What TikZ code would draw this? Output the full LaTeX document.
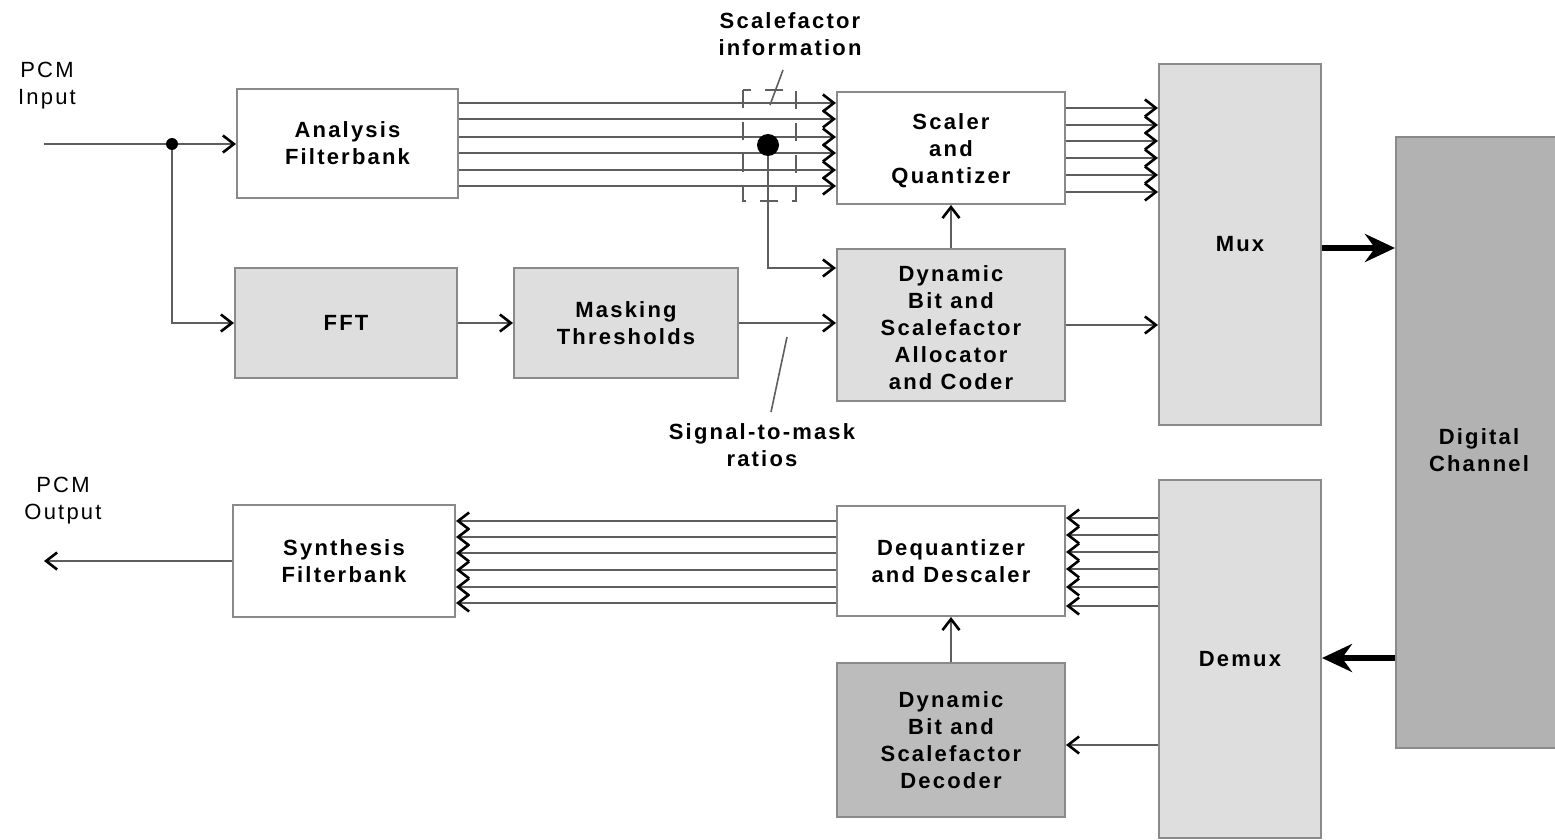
\documentclass[tikz,border=0pt]{standalone}
\usepackage{fontspec}
\setmainfont{Liberation Sans}
\newfontfamily\lblfamily{Liberation Sans}[LetterSpace=10]
\usetikzlibrary{arrows.meta}
\definecolor{bordergray}{HTML}{8A8A8A}
\definecolor{linegray}{HTML}{5E5E5E}
\definecolor{lightfill}{HTML}{DEDEDE}
\definecolor{darkfill}{HTML}{BCBCBC}
\definecolor{chanfill}{HTML}{B2B2B2}
\newcommand{\lowtext}[2]{\raisebox{#1}[\height][\depth]{\begin{tabular}{@{}c@{}}#2\end{tabular}}}
\tikzset{
  lblfont/.style={font=\fontsize{11}{13.5}\selectfont\lblfamily\bfseries},
  blk/.style={draw=bordergray, line width=1pt, inner sep=0pt, align=center, lblfont},
  wblk/.style={blk, fill=white},
  gblk/.style={blk, fill=lightfill},
  dblk/.style={blk, fill=darkfill},
  cblk/.style={blk, fill=chanfill},
  sig/.style={draw=linegray, line width=1pt},
  arr/.style={sig, -{Straight Barb[length=5.5pt,width=8.5pt,line width=1.3pt,color=black]}},
  bigarr/.style={draw=black, line width=2.8pt, -{Stealth[length=15pt,width=14pt,inset=5pt]}},
  lbl/.style={align=center, lblfont, inner sep=0pt},
  lead/.style={draw=linegray, line width=0.8pt},
}
\begin{document}
\begin{tikzpicture}[x=0.5pt,y=-0.5pt]
\useasboundingbox (0,0) rectangle (1555,840);
% blocks
\node[wblk, minimum width=110.5pt, minimum height=54.5pt] (af) at (347.5,143.5) {Analysis\\Filterbank};
\node[gblk, minimum width=111pt, minimum height=55pt] (fft) at (346,323) {FFT};
\node[gblk, minimum width=112pt, minimum height=55pt] (mt) at (626,323) {Masking\\Thresholds};
\node[wblk, minimum width=114pt, minimum height=56pt] (sq) at (951,148) {\lowtext{-1.5pt}{Scaler\\and\\Quantizer}};
\node[gblk, minimum width=114pt, minimum height=76pt] (alloc) at (951,325) {\lowtext{-2.5pt}{Dynamic\\Bit and\\Scalefactor\\Allocator\\and Coder}};
\node[gblk, minimum width=81pt, minimum height=180.5pt] (mux) at (1240,244.5) {Mux};
\node[cblk, minimum width=83pt, minimum height=305.5pt] (dc) at (1479,442.5) {\lowtext{-5pt}{Digital\\Channel}};
\node[gblk, minimum width=81pt, minimum height=179pt] (demux) at (1240,659) {Demux};
\node[wblk, minimum width=114pt, minimum height=55pt] (dq) at (951,561) {Dequantizer\\and Descaler};
\node[dblk, minimum width=114pt, minimum height=77pt] (dec) at (951,740) {Dynamic\\Bit and\\Scalefactor\\Decoder};
\node[wblk, minimum width=111pt, minimum height=56pt] (sf) at (344,561) {Synthesis\\Filterbank};
% labels
\node[lbl, font=\fontsize{11}{13.5}\selectfont\lblfamily] (pcmin) at (47,86) {PCM\\Input};
\node[lbl, font=\fontsize{11}{13.5}\selectfont\lblfamily] (pcmout) at (63,501) {PCM\\Output};
\node[lbl] (sfi) at (790,34) {Scalefactor\\information};
\node[lbl] (smr) at (762,445) {Signal-to-mask\\ratios};
% input
\coordinate (in) at (44,144);
\coordinate (j) at (172,144);
\draw[sig] (in) -- (j);
\draw[arr] (j) -- (af.west |- j);
\draw[arr] (j) |- (fft.west);
\fill[black] (j) circle (6);
\draw[arr] (fft) -- (mt);
\draw[arr] (mt.east) -- (alloc.west |- mt.east);
\draw[arr] (alloc.east) -- (mux.west |- alloc.east);
\draw[arr] (alloc.north) -- (sq.south);
% filterbank -> scaler
\foreach \y in {103,119,137,153,170,186}
  \draw[arr] (af.east |- 0,\y) -- (sq.west |- 0,\y);
% scaler -> mux
\foreach \y in {108,125,141,158,175,192}
  \draw[arr] (sq.east |- 0,\y) -- (mux.west |- 0,\y);
% scalefactor information
\draw[draw=linegray, line width=0.8pt, dash pattern=on 9pt off 7pt] (743,90) rectangle (796,201);
\coordinate (sfdot) at (768,145);
\draw[arr] (sfdot) |- (alloc.west |- 0,268);
\fill[black] (sfdot) circle (11);
\coordinate (sfl1) at (783,70);
\coordinate (sfl2) at (770,105);
\draw[lead] (sfl1) -- (sfl2);
% signal-to-mask leader
\coordinate (sml1) at (787,337);
\coordinate (sml2) at (771,412);
\draw[lead] (sml1) -- (sml2);
% channel
\draw[bigarr] (mux.east |- 0,248) -- (dc.west |- 0,248);
\draw[bigarr] (dc.west |- 0,658) -- (demux.east |- 0,658);
% demux -> dequantizer
\foreach \y in {518,535,552,569,587,606}
  \draw[arr] (demux.west |- 0,\y) -- (dq.east |- 0,\y);
% dequantizer -> synthesis
\foreach \y in {521,537,553,570,587,603}
  \draw[arr] (dq.west |- 0,\y) -- (sf.east |- 0,\y);
\draw[arr] (demux.west |- 0,745) -- (dec.east |- 0,745);
\draw[arr] (dec.north) -- (dq.south);
\coordinate (out) at (44,561);
\draw[arr] (sf.west |- out) -- (out);
\end{tikzpicture}
\end{document}
